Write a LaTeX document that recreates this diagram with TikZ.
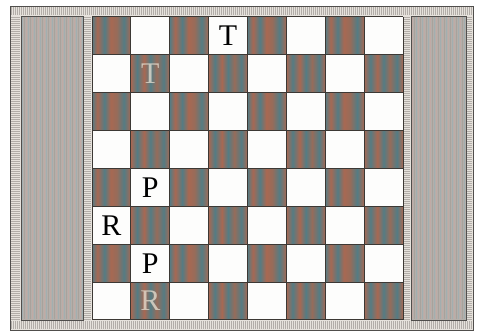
\documentclass[tikz,border=0pt]{standalone}
\usepackage{fontspec}
\newfontfamily\piecefont{Liberation Serif}
\begin{document}
\definecolor{framebg}{RGB}{230,226,220}
\definecolor{frameline}{RGB}{80,78,76}
\definecolor{tickc}{RGB}{178,173,168}
\definecolor{panelbg}{RGB}{180,175,170}
\definecolor{panA}{RGB}{192,170,165}
\definecolor{panB}{RGB}{162,174,176}
\definecolor{panC}{RGB}{168,162,156}
\definecolor{brn}{RGB}{168,104,82}
\definecolor{brn2}{RGB}{150,108,90}
\definecolor{tea}{RGB}{84,124,132}
\definecolor{gridc}{RGB}{60,56,52}
\definecolor{sqw}{RGB}{253,253,252}
\definecolor{faded}{RGB}{225,218,204}
\pgfdeclarehorizontalshading{stripesA}{100bp}{color(0bp)=(brn); color(25bp)=(brn); color(33bp)=(tea); color(42bp)=(brn); color(50bp)=(tea); color(58bp)=(brn2); color(67bp)=(tea); color(75bp)=(brn); color(100bp)=(brn)}
\pgfdeclarehorizontalshading{stripesB}{100bp}{color(0bp)=(tea); color(25bp)=(tea); color(32bp)=(brn); color(41bp)=(tea); color(49bp)=(brn); color(57bp)=(brn2); color(66bp)=(tea); color(75bp)=(brn); color(100bp)=(brn)}
\tikzset{
  tickline/.style={draw=tickc, line width=0.5pt},
  frameedge/.style={draw=frameline, line width=0.9pt},
  gridline/.style={draw=gridc, line width=1pt},
  piece/.style={font=\piecefont\fontsize{30}{32}\selectfont, text=black, inner sep=0pt},
  fadedpiece/.style={piece, text=faded, opacity=0.8},
}
\begin{tikzpicture}[x=1pt,y=-1pt]
\useasboundingbox (0,0) rectangle (477,331);
\fill[white] (0,0) rectangle (477,331);
% frame
\fill[framebg] (10,6) rectangle (473,330);
\foreach \x in {11,13,...,471} {
  \draw[tickline] (\x,7) -- (\x,15);
  \draw[tickline] (\x,321) -- (\x,329);
}
\foreach \y in {17,19,...,319} {
  \draw[tickline] (11,\y) -- (20,\y);
  \draw[tickline] (84,\y) -- (91,\y);
  \draw[tickline] (404,\y) -- (410,\y);
  \draw[tickline] (467,\y) -- (472,\y);
}
\draw[frameedge] (10,6) rectangle (473,330);
% side panels
\fill[panelbg] (21,16) rectangle (83,320);
\fill[panelbg] (411,16) rectangle (466,320);
\foreach \x [count=\i] in {22,24,...,82} {
  \pgfmathtruncatemacro{\m}{mod(\i,3)}
  \ifcase\m \def\pc{panA}\or \def\pc{panB}\or \def\pc{panC}\fi
  \draw[draw=\pc, line width=0.6pt] (\x,17) -- (\x,319);
}
\foreach \x [count=\i] in {412,414,...,465} {
  \pgfmathtruncatemacro{\m}{mod(\i,3)}
  \ifcase\m \def\pc{panB}\or \def\pc{panA}\or \def\pc{panC}\fi
  \draw[draw=\pc, line width=0.6pt] (\x,17) -- (\x,319);
}
\draw[frameedge, line width=0.7pt] (21,16) rectangle (83,320);
\draw[frameedge, line width=0.7pt] (411,16) rectangle (466,320);
% board
\def\bx{92}\def\by{17}\def\cw{38.875}\def\rh{37.875}
\fill[sqw] (92,17) rectangle (403,320);
\foreach \r in {1,...,8} {
  \foreach \c in {1,...,8} {
    \pgfmathtruncatemacro{\pty}{mod(\r+\c,2)}
    \pgfmathtruncatemacro{\vty}{mod(\r*3+\c*5+\r*\c,2)}
    \pgfmathsetmacro{\xa}{\bx+(\c-1)*\cw}
    \pgfmathsetmacro{\ya}{\by+(\r-1)*\rh}
    \pgfmathsetmacro{\xb}{\bx+\c*\cw}
    \pgfmathsetmacro{\yb}{\by+\r*\rh}
    \ifnum\pty=0
      \ifnum\vty=0
        \shade[shading=stripesA] (\xa,\ya) rectangle (\xb,\yb);
      \else
        \shade[shading=stripesB] (\xa,\ya) rectangle (\xb,\yb);
      \fi
    \fi
  }
}
\foreach \k in {0,...,8} {
  \pgfmathsetmacro{\xx}{\bx+\k*\cw}
  \pgfmathsetmacro{\yy}{\by+\k*\rh}
  \draw[gridline] (\xx,17) -- (\xx,320);
  \draw[gridline] (92,\yy) -- (403,\yy);
}
% pieces
\node[piece] (t1) at ({\bx+3.5*\cw},{\by+0.5*\rh}) {T};
\node[fadedpiece] (t2) at ({\bx+1.5*\cw},{\by+1.5*\rh}) {T};
\node[piece] (p1) at ({\bx+1.5*\cw},{\by+4.5*\rh}) {P};
\node[piece] (r1) at ({\bx+0.5*\cw},{\by+5.5*\rh}) {R};
\node[piece] (p2) at ({\bx+1.5*\cw},{\by+6.5*\rh}) {P};
\node[fadedpiece] (r2) at ({\bx+1.5*\cw},{\by+7.5*\rh}) {R};
\end{tikzpicture}
\end{document}
